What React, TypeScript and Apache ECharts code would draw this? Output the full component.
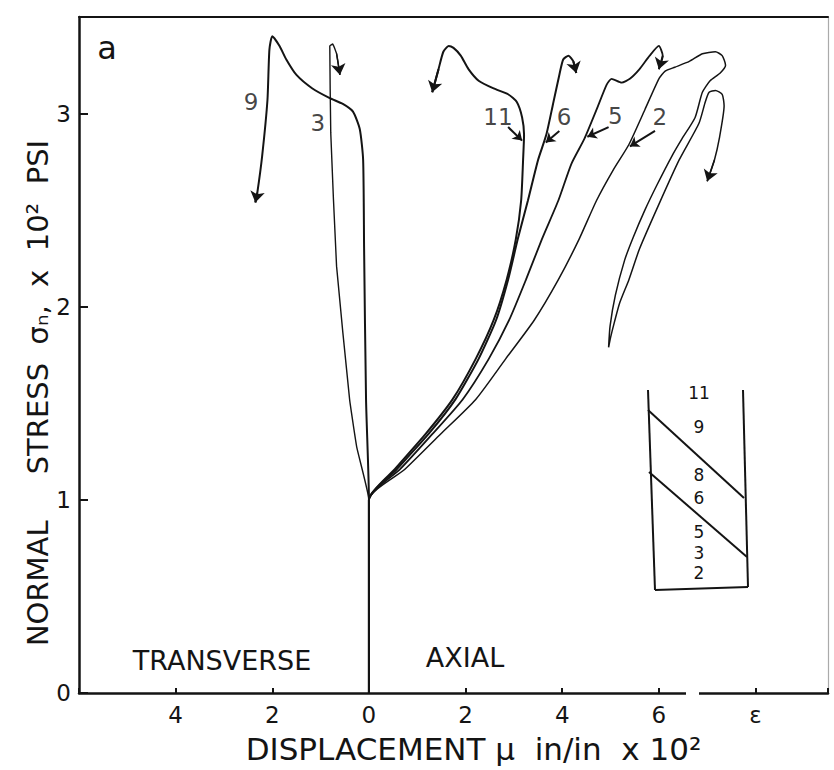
import React, { useEffect, useRef } from "react";
import * as echarts from "echarts";

// ---- data (x: displacement, transverse negative; y: normal stress x10^2 psi)
const curve9 = [
  [0, 0], [0, 1.0], [-0.06, 1.52], [-0.1, 2.3], [-0.12, 2.76], [-0.19, 2.92], [-0.33, 3.01],
  [-0.54, 3.05], [-0.81, 3.08], [-1.17, 3.13], [-1.5, 3.2], [-1.71, 3.28], [-1.85, 3.35],
  [-2.0, 3.4], [-2.06, 3.33], [-2.1, 3.07], [-2.21, 2.78], [-2.31, 2.59], [-2.35, 2.54],
];
const curve3 = [
  [0, 0], [0, 1.0], [-0.25, 1.27], [-0.4, 1.52], [-0.67, 2.21],
  [-0.79, 2.9], [-0.81, 3.35], [-0.75, 3.36], [-0.67, 3.31], [-0.6, 3.2],
];
const curve11 = [
  [0, 0], [0, 1.0], [0.54, 1.16], [1.17, 1.34], [1.73, 1.52], [2.21, 1.73], [2.58, 1.93],
  [2.85, 2.14], [3.04, 2.35], [3.15, 2.55], [3.19, 2.76], [3.21, 2.89], [3.17, 2.98],
  [3.06, 3.06], [2.88, 3.1], [2.58, 3.13], [2.27, 3.17], [2.06, 3.23], [1.9, 3.3],
  [1.75, 3.34], [1.65, 3.35], [1.54, 3.32], [1.44, 3.23], [1.31, 3.11],
];
const curve6 = [
  [0, 0], [0, 1.0], [0.58, 1.16], [1.23, 1.34], [1.79, 1.52], [2.27, 1.73], [2.63, 1.93],
  [2.88, 2.14], [3.08, 2.35], [3.29, 2.55], [3.5, 2.76], [3.67, 2.89], [3.81, 3.05],
  [3.94, 3.2], [4.02, 3.28], [4.13, 3.3], [4.23, 3.27], [4.29, 3.21],
];
const curve5 = [
  [0, 0], [0, 1.0], [0.65, 1.16], [1.31, 1.34], [1.94, 1.52], [2.48, 1.73], [2.9, 1.93],
  [3.25, 2.14], [3.58, 2.35], [3.92, 2.55], [4.19, 2.74], [4.46, 2.87], [4.71, 3.02],
  [4.92, 3.15], [5.02, 3.18], [5.23, 3.16], [5.4, 3.18], [5.6, 3.23], [5.81, 3.3],
  [6.0, 3.35], [6.08, 3.3], [6.0, 3.23],
];
const curve2 = [
  [0, 0], [0, 1.0], [0.75, 1.16], [1.48, 1.34], [2.21, 1.52], [2.83, 1.73], [3.42, 1.93],
  [3.92, 2.14], [4.35, 2.35], [4.71, 2.55], [5.06, 2.71], [5.38, 2.84], [5.71, 3.02],
  [6.0, 3.18], [6.13, 3.22], [6.33, 3.24], [6.63, 3.27], [6.9, 3.31], [7.17, 3.32],
  [7.31, 3.3], [7.38, 3.25], [7.27, 3.21], [7.06, 3.17], [6.9, 3.11], [6.75, 2.98],
  [6.48, 2.87], [6.27, 2.78], [5.96, 2.63], [5.71, 2.5], [5.47, 2.36], [5.29, 2.24],
  [5.1, 2.06], [4.99, 1.9], [4.96, 1.79], [5.0, 1.84], [5.08, 1.92], [5.19, 2.02],
  [5.38, 2.14], [5.6, 2.3], [6.0, 2.53], [6.42, 2.76], [6.83, 2.95], [6.96, 3.06],
  [7.04, 3.11], [7.17, 3.12], [7.31, 3.1], [7.35, 3.04], [7.25, 2.87], [7.15, 2.76],
  [7.0, 2.65],
];

const curveNames = ["9", "3", "11", "6", "5", "2"];
const curveData = [curve9, curve3, curve11, curve6, curve5, curve2];
const curveWidths = [2, 1.4, 2, 2, 1.8, 1.5];
const curveSmooth = [0.2, 0.1, 0.2, 0.2, 0.2, 0.2];

const labelTexts = ["9", "3", "11", "6", "5", "2"];
const labelPositions = [
  [-2.44, 3.06], [-1.06, 2.95], [2.67, 2.98], [4.04, 2.98], [5.1, 2.99], [6.02, 2.98],
];
const pointerStarts = [[2.88, 2.93], [3.94, 2.91], [4.96, 2.93], [5.92, 2.91]];
const pointerEnds = [[3.17, 2.86], [3.66, 2.85], [4.52, 2.88], [5.4, 2.83]];

const xTicks = [-6, 8, 2]; // min, last labelled tick, interval
const yTicks = [0, 3, 1];
const insetNumbers = ["11", "9", "8", "6", "5", "3", "2"];

const X_TITLE = "DISPLACEMENT μ  in/in  x 10²";
const Y_TITLE = "NORMAL     STRESS  σₙ,  x  10²  PSI";

const INK = "#141414";
const FONT = "DejaVu Sans";

export default function App() {
  const ref = useRef<HTMLDivElement>(null);
  useEffect(() => {
    if (!ref.current) return;
    const chart = echarts.init(ref.current, undefined, { renderer: "svg" });

    const curveSeries = curveData.map((pts, i) => {
      const n = pts.length;
      return {
        name: "curve " + curveNames[i],
        type: "line",
        data: pts,
        showSymbol: false,
        symbol: "none",
        smooth: curveSmooth[i],
        lineStyle: { color: INK, width: curveWidths[i] },
        z: 3,
        markLine: {
          silent: true,
          symbol: ["none", "arrow"],
          symbolSize: 11,
          label: { show: false },
          lineStyle: { color: INK, width: curveWidths[i], type: "solid" },
          data: [[{ coord: pts[n - 2] }, { coord: pts[n - 1] }]],
        },
      };
    });

    const insetY = [393, 427, 475, 498, 532, 553, 573];
    const graphic: any[] = [
      { type: "rect", shape: { x: 686, y: 688, width: 13, height: 10 }, style: { fill: "#fff" }, z: 100 },
      { type: "text", x: 107, y: 48, style: { text: "a", font: `32px ${FONT}`, fill: INK, align: "center", verticalAlign: "middle" } },
      {
        type: "text", x: 38, y: 393, rotation: Math.PI / 2,
        style: { text: Y_TITLE, font: `29px ${FONT}`, fill: INK, align: "center", verticalAlign: "middle" },
      },
      { type: "text", x: 222, y: 660, style: { text: "TRANSVERSE", font: `27px ${FONT}`, fill: INK, align: "center", verticalAlign: "middle" } },
      { type: "text", x: 465, y: 657, style: { text: "AXIAL", font: `27px ${FONT}`, fill: INK, align: "center", verticalAlign: "middle" } },
      { type: "line", shape: { x1: 648, y1: 390, x2: 655, y2: 590 }, style: { stroke: INK, lineWidth: 2 } },
      { type: "line", shape: { x1: 743, y1: 390, x2: 748, y2: 587 }, style: { stroke: INK, lineWidth: 2 } },
      { type: "line", shape: { x1: 655, y1: 590, x2: 748, y2: 587 }, style: { stroke: INK, lineWidth: 2 } },
      { type: "line", shape: { x1: 648, y1: 410, x2: 744, y2: 498 }, style: { stroke: INK, lineWidth: 2 } },
      { type: "line", shape: { x1: 649, y1: 472, x2: 747, y2: 557 }, style: { stroke: INK, lineWidth: 2 } },
      ...insetNumbers.map((t, i) => ({
        type: "text", x: 699, y: insetY[i],
        style: { text: t, font: `17px ${FONT}`, fill: INK, align: "center", verticalAlign: "middle" },
      })),
    ];

    chart.setOption({
      animation: false,
      backgroundColor: "#fff",
      grid: { left: 79, right: 6, top: 17, bottom: 77, containLabel: false },
      xAxis: [
        {
          type: "value", min: xTicks[0], max: 9.5, interval: xTicks[2],
          name: X_TITLE, nameLocation: "middle", nameGap: 40,
          nameTextStyle: { fontFamily: FONT, fontSize: 31, color: INK, padding: [0, 0, 0, 40] },
          axisLine: { onZero: false, lineStyle: { color: INK, width: 2.5 } },
          axisTick: { inside: true, length: 5, lineStyle: { color: INK, width: 2 } },
          axisLabel: {
            fontFamily: FONT, fontSize: 23, color: INK, margin: 10,
            formatter: (v: number) => {
              if (v === xTicks[1]) return "ε";
              if (v <= xTicks[0] || v > xTicks[1] || v % 2 !== 0) return "";
              return String(Math.abs(v));
            },
          },
          splitLine: { show: false },
        },
        {
          type: "value", position: "top", min: xTicks[0], max: 9.5,
          axisLine: { show: true, onZero: false, lineStyle: { color: INK, width: 2 } },
          axisTick: { show: false }, axisLabel: { show: false }, splitLine: { show: false },
        },
      ],
      yAxis: [
        {
          type: "value", min: yTicks[0], max: 3.5, interval: yTicks[2],
          axisLine: { onZero: false, lineStyle: { color: INK, width: 2.5 } },
          axisTick: { inside: true, length: 9, lineStyle: { color: INK, width: 2 } },
          axisLabel: {
            fontFamily: FONT, fontSize: 23, color: INK, margin: 8,
            formatter: (v: number) => (v > yTicks[1] || v % 1 !== 0 ? "" : String(v)),
          },
          splitLine: { show: false },
        },
        {
          type: "value", position: "right", min: 0, max: 3.5,
          axisLine: { show: true, onZero: false, lineStyle: { color: "#aaa", width: 1.2 } },
          axisTick: { show: false }, axisLabel: { show: false }, splitLine: { show: false },
        },
      ],
      series: [
        ...curveSeries,
        {
          name: "labels",
          type: "scatter",
          data: labelPositions.map((p, i) => ({ value: p, name: labelTexts[i] })),
          symbolSize: 1,
          itemStyle: { color: "rgba(0,0,0,0)" },
          label: {
            show: true, position: "inside", formatter: (p: any) => p.name,
            fontFamily: FONT, fontSize: 23, color: INK,
          },
          z: 4,
          markLine: {
            silent: true,
            symbol: ["none", "arrow"],
            symbolSize: 9,
            label: { show: false },
            lineStyle: { color: INK, width: 2, type: "solid" },
            data: pointerStarts.map((s, i) => [{ coord: s }, { coord: pointerEnds[i] }]),
          },
        },
      ],
      graphic,
    });
    return () => chart.dispose();
  }, []);
  return (
    <div
      ref={ref}
      style={{ position: "absolute", left: 0, top: 0, width: 834, height: 770, background: "#fff" }}
    />
  );
}
